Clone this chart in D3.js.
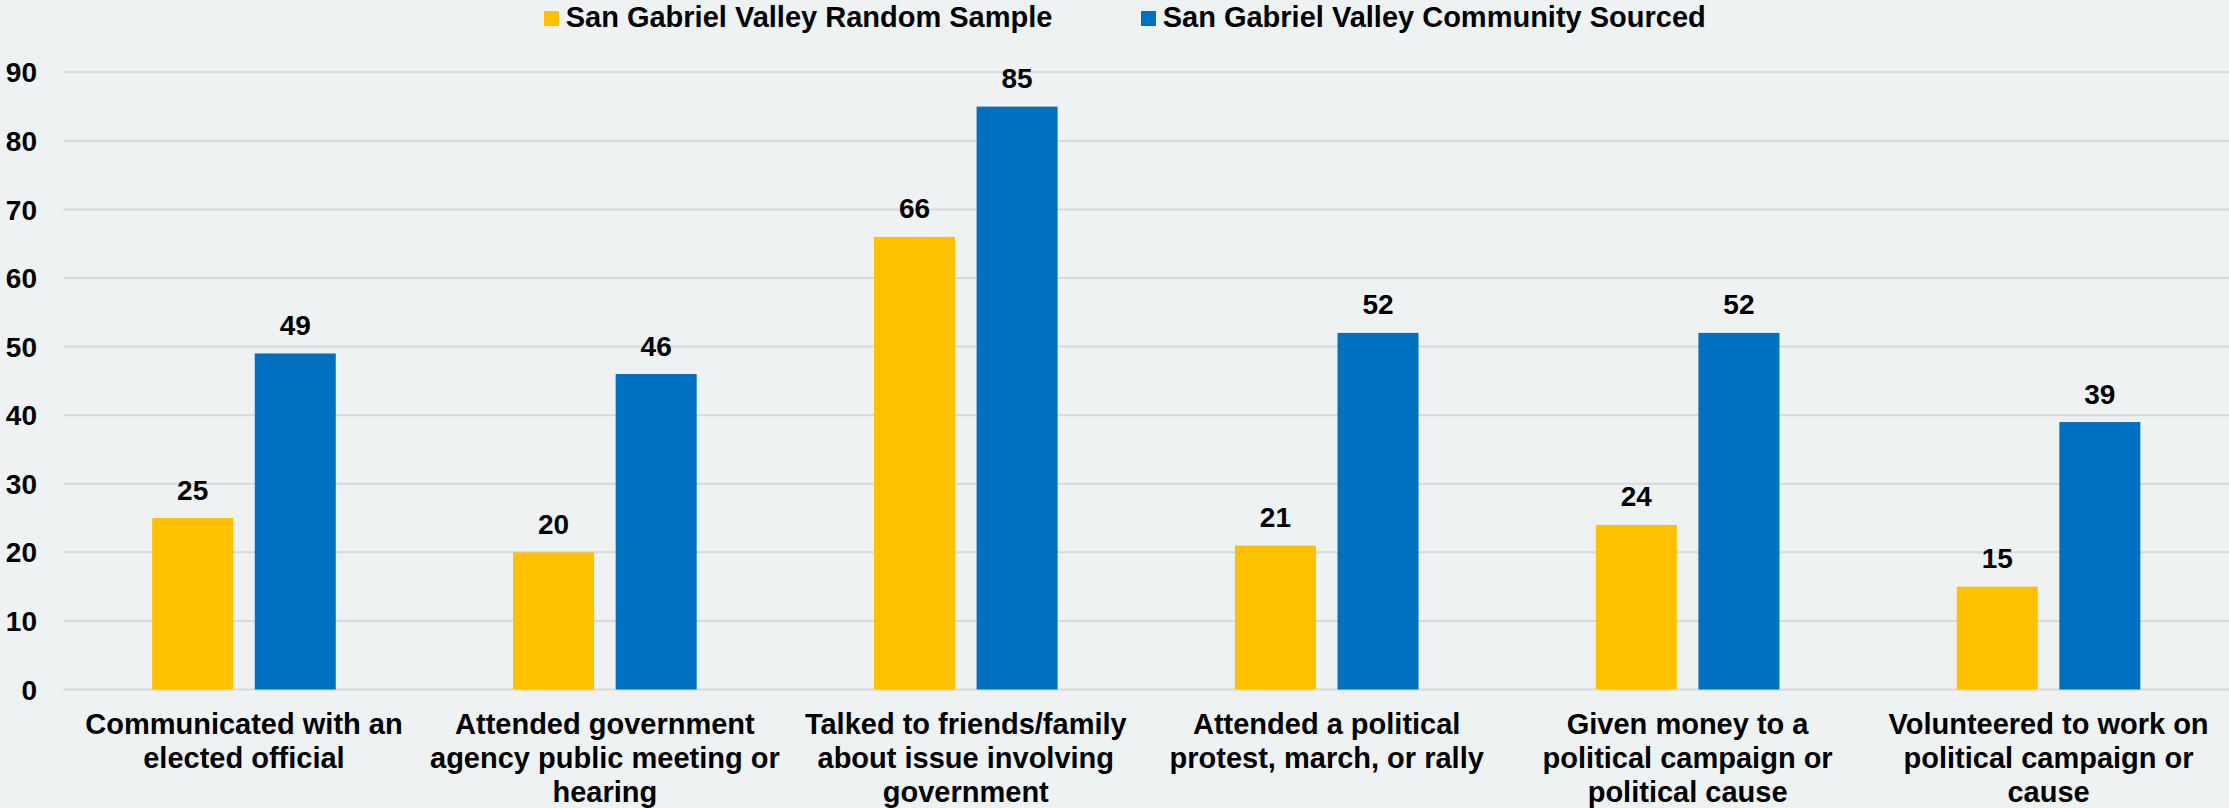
<!DOCTYPE html>
<html><head><meta charset="utf-8">
<script src="https://cdn.jsdelivr.net/npm/d3@7"></script>
<style>
html,body{margin:0;padding:0;background:#eff2f3;}
svg{display:block;}
text{font-family:"Liberation Sans",Arial,sans-serif;font-weight:bold;fill:#000;}
</style></head>
<body>
<svg id="chart" width="2229" height="808"></svg>
<script>
const categories = [
  ["Communicated with an","elected official"],
  ["Attended government","agency public meeting or","hearing"],
  ["Talked to friends/family","about issue involving","government"],
  ["Attended a political","protest, march, or rally"],
  ["Given money to a","political campaign or","political cause"],
  ["Volunteered to work on","political campaign or","cause"]
];
const seriesNames = ["San Gabriel Valley Random Sample","San Gabriel Valley Community Sourced"];
const randomSample = [25,20,66,21,24,15];
const communitySourced = [49,46,85,52,52,39];
const yTicks = [0,10,20,30,40,50,60,70,80,90];
const colors = ["#ffc000","#0070c0"];

const W = 2229, H = 808;
const svg = d3.select("#chart");
svg.append("rect").attr("width",W).attr("height",H).attr("fill","#eff2f3");

const plotLeft = 63.5, plotRight = 2229;
const y = d3.scaleLinear().domain([0,90]).range([689.5,72.3]);
const idx = d3.range(categories.length);
const x = d3.scaleBand().domain(idx).range([plotLeft, plotRight]).paddingInner(0).paddingOuter(0);
const bw = x.bandwidth();
const groupW = 183.6;
const inner = d3.scaleBand().domain([0,1]).range([(bw-groupW)/2,(bw+groupW)/2]).paddingInner(0.2105).paddingOuter(0);

// gridlines
svg.append("g").selectAll("line").data(yTicks).join("line")
  .attr("x1",plotLeft).attr("x2",plotRight)
  .attr("y1",d=>y(d)).attr("y2",d=>y(d))
  .attr("stroke","#d9d9d9").attr("stroke-width",2);

// y tick labels
svg.append("g").selectAll("text").data(yTicks).join("text")
  .attr("x",37).attr("y",d=>y(d)).attr("dy","0.36em")
  .attr("text-anchor","end").attr("font-size",28)
  .text(d=>d);

const series = [randomSample, communitySourced];
series.forEach((vals,s)=>{
  const g = svg.append("g");
  g.selectAll("rect").data(vals).join("rect")
    .attr("x",(d,i)=>x(i)+inner(s))
    .attr("width",inner.bandwidth())
    .attr("y",d=>y(d))
    .attr("height",d=>y(0)-y(d))
    .attr("fill",colors[s]);
  g.selectAll("text").data(vals).join("text")
    .attr("x",(d,i)=>x(i)+inner(s)+inner.bandwidth()/2)
    .attr("y",d=>y(d)-18.5)
    .attr("text-anchor","middle").attr("font-size",28)
    .text(d=>d);
});

// category labels
const cg = svg.append("g").selectAll("text").data(categories).join("text")
  .attr("text-anchor","middle").attr("font-size",29);
cg.each(function(lines,i){
  d3.select(this).selectAll("tspan").data(lines).join("tspan")
    .attr("x",x(i)+bw/2).attr("y",(d,j)=>734+j*34).text(d=>d);
});

// legend
const legendItems = [{x:544,name:seriesNames[0],c:colors[0]},{x:1141,name:seriesNames[1],c:colors[1]}];
const lg = svg.append("g");
legendItems.forEach(it=>{
  lg.append("rect").attr("x",it.x).attr("y",11).attr("width",15).attr("height",15).attr("fill",it.c);
  lg.append("text").attr("x",it.x+21.7).attr("y",27.3).attr("font-size",29).text(it.name);
});
</script>
</body></html>
